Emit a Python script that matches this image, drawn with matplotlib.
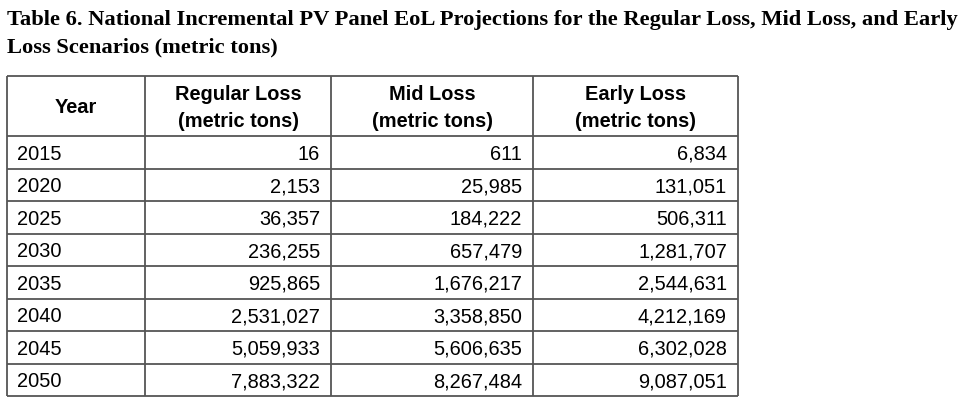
import matplotlib
matplotlib.use("Agg")
import matplotlib.pyplot as plt

# table contents
years = [2015, 2020, 2025, 2030, 2035, 2040, 2045, 2050]
regular_loss = [16, 2153, 36357, 236255, 925865, 2531027, 5059933, 7883322]
mid_loss = [611, 25985, 184222, 657479, 1676217, 3358850, 5606635, 8267484]
early_loss = [6834, 131051, 506311, 1281707, 2544631, 4212169, 6302028, 9087051]
col_headers = [["Year"], ["Regular Loss", "(metric tons)"], ["Mid Loss", "(metric tons)"],
               ["Early Loss", "(metric tons)"]]
title_lines = ["Table 6. National Incremental PV Panel EoL Projections for the Regular Loss, Mid Loss, and Early",
               "Loss Scenarios (metric tons)"]

W, H = 966, 408
fig = plt.figure(figsize=(W / 100, H / 100), dpi=100)
ax = fig.add_axes([0, 0, 1, 1])
ax.set_xlim(0, W)
ax.set_ylim(H, 0)
ax.axis("off")

# layout in pixels
col_x = [7, 145, 331, 533, 738]
top, head_bot, row_h = 75.5, 136, 32.5
bottom = head_bot + row_h * len(years)
line_kw = dict(color="#555555", lw=1.3, solid_capstyle="butt")
fs = 14.4

# title, one line at a time
for k, t in enumerate(title_lines):
    ax.text(7, 25 + k * 27, t, fontsize=16.2, fontweight="bold", family="Liberation Serif",
            va="baseline", ha="left")

# grid
for x in col_x:
    ax.plot([x, x], [top, bottom], **line_kw)
ax.plot([col_x[0], col_x[-1]], [top, top], **line_kw)
for i in range(len(years) + 1):
    y = head_bot + i * row_h
    ax.plot([col_x[0], col_x[-1]], [y, y], **line_kw)

# header
for j, h in enumerate(col_headers):
    cx = (col_x[j] + col_x[j + 1]) / 2
    base = [113] if len(h) == 1 else [100, 127]
    for line, b in zip(h, base):
        ax.text(cx, b, line, fontsize=fs, fontweight="bold",
                family="Liberation Sans", ha="center", va="baseline")

# rows
cols = [regular_loss, mid_loss, early_loss]
for i, yr in enumerate(years):
    base = head_bot + (i + 0.5) * row_h + 7.5
    ax.text(col_x[0] + 10, base, str(yr), fontsize=fs, family="Liberation Sans",
            ha="left", va="baseline")
    for j, vals in enumerate(cols):
        ax.text(col_x[j + 2] - 11, base, f"{vals[i]:,}", fontsize=fs,
                family="Liberation Sans", ha="right", va="baseline")

fig.savefig("out.png", dpi=100, facecolor="white")
